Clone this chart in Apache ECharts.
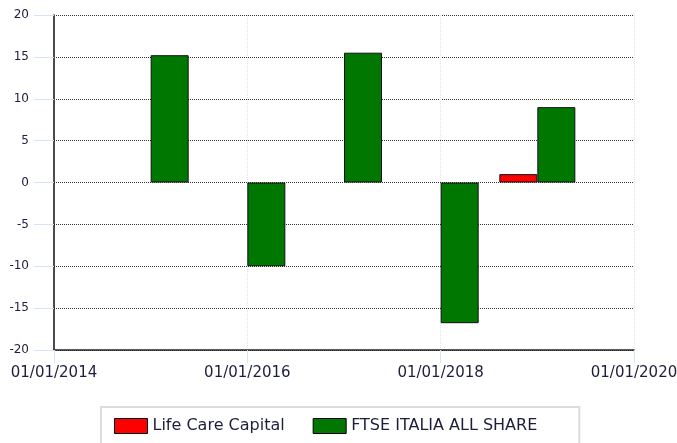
<!DOCTYPE html>
<html>
<head>
<meta charset="utf-8">
<script src="https://cdn.jsdelivr.net/npm/echarts@6/dist/echarts.min.js"></script>
<style>
  html, body { margin: 0; padding: 0; background: #fff; overflow: hidden; }
  #chart { width: 677px; height: 443px; }
</style>
</head>
<body>
<div id="chart"></div>
<script>
// years (bars sit on 01/01 of each year)
var years = [2015, 2016, 2017, 2018, 2019];
var lifeCare = [null, null, null, null, 1.0];
var ftse = [15.2, -10.0, 15.5, -16.8, 9.0];
var seriesNames = ['Life Care Capital', 'FTSE ITALIA ALL SHARE'];

function pairs(vals) {
    var out = [];
    for (var i = 0; i < years.length; i++) {
        if (vals[i] !== null) out.push([years[i], vals[i]]);
    }
    return out;
}

var font = 'DejaVu Sans';
var chart = echarts.init(document.getElementById('chart'), null, { renderer: 'canvas' });

var option = {
    animation: false,
    backgroundColor: '#fff',
    grid: { left: 54, right: 43, top: 15, bottom: 93, containLabel: false, outerBoundsMode: 'none' },
    legend: {
        left: 101,
        top: 407,
        padding: [11, 42, 11, 13],
        borderColor: '#dcdcdc',
        borderWidth: 2,
        icon: 'rect',
        itemWidth: 33,
        itemHeight: 15,
        itemGap: 28,
        itemStyle: { borderColor: '#000', borderWidth: 1 },
        textStyle: { fontFamily: font, fontSize: 16, color: '#1e1e3c' },
        data: seriesNames
    },
    xAxis: {
        type: 'value',
        min: 2014,
        max: 2020,
        interval: 2,
        axisLine: { show: true, onZero: false, lineStyle: { color: '#222', width: 1.5 } },
        axisTick: { show: true, length: 13, lineStyle: { color: '#d6e4f5' } },
        axisLabel: {
            margin: 16,
            fontFamily: font,
            fontSize: 15,
            color: '#1e1e3c',
            formatter: function (v) { return '01/01/' + v; }
        },
        splitLine: { show: true, lineStyle: { color: '#d6e4f5', type: 'dotted' } }
    },
    yAxis: {
        type: 'value',
        min: -20,
        max: 20,
        interval: 5,
        axisLine: { show: true, lineStyle: { color: '#111', width: 1.5 } },
        axisTick: { show: true, length: 20, lineStyle: { color: '#d6e4f5' } },
        axisLabel: { margin: 25, fontFamily: font, fontSize: 12, color: '#1e1e3c' },
        splitLine: { show: true, lineStyle: { color: '#333', type: [1, 1] } }
    },
    series: [
        {
            name: seriesNames[0],
            type: 'bar',
            barWidth: 38,
            barGap: '0%',
            itemStyle: { color: '#ff0000', borderColor: '#111', borderWidth: 1 },
            data: pairs(lifeCare)
        },
        {
            name: seriesNames[1],
            type: 'bar',
            barWidth: 38,
            barGap: '0%',
            itemStyle: { color: '#007700', borderColor: '#111', borderWidth: 1 },
            data: pairs(ftse)
        }
    ]
};

chart.setOption(option);
</script>
</body>
</html>
